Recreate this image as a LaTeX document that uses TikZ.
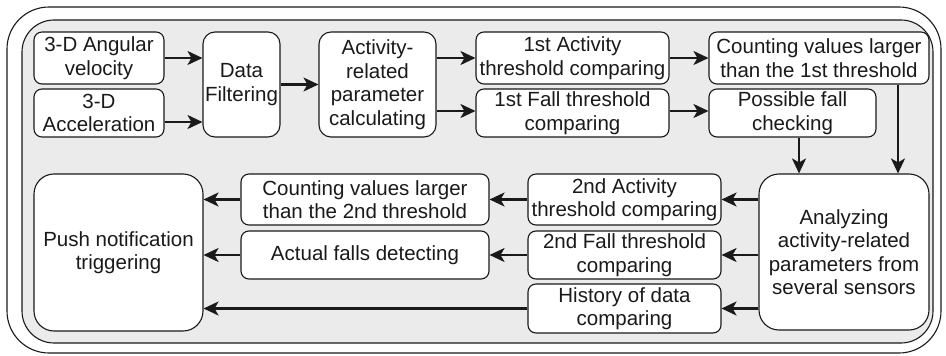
\documentclass[tikz,border=0pt]{standalone}
\usepackage{fontspec}
\setmainfont{Liberation Sans}
\usetikzlibrary{arrows.meta,calc}

\definecolor{panel}{HTML}{EBEBEB}
\definecolor{ink}{HTML}{1A1A1A}

\tikzset{
  box/.style={draw=ink, fill=white, line width=1.1pt, rounded corners=8pt,
    inner sep=0pt, align=center, text=ink,
    font=\fontsize{20.5}{23.5}\selectfont},
  bigbox/.style={box, rounded corners=20pt},
  midbox/.style={box, rounded corners=12pt},
  arr/.style={draw=ink, line width=2.2pt,
    -{Stealth[length=15pt,width=14pt,inset=4pt]}},
}

\begin{document}
\begin{tikzpicture}[x=1pt,y=-1pt]
\useasboundingbox (0,0) rectangle (946,356);

% outer frames
\draw[ink, line width=1.1pt, fill=white, rounded corners=42pt] (7,7) rectangle (941,353);
\draw[ink, line width=1.1pt, fill=panel, rounded corners=32pt] (22,20) rectangle (933,343);

% top row
\node[box, minimum width=130pt, minimum height=52pt] (ang) at (99,58) {3-D Angular\\velocity};
\node[box, minimum width=130pt, minimum height=48pt] (acc) at (99,113) {3-D\\Acceleration};
\node[midbox, minimum width=77pt, minimum height=105pt] (filt) at (241.5,84.5) {Data\\Filtering};
\node[midbox, minimum width=117pt, minimum height=105pt] (act) at (377.5,84.5) {Activity-\\related\\parameter\\calculating};
\node[box, minimum width=193pt, minimum height=52pt] (th1a) at (572.5,58) {1st Activity\\threshold comparing};
\node[box, minimum width=193pt, minimum height=48pt] (th1f) at (572.5,113) {1st Fall threshold\\comparing};
\node[box, minimum width=220pt, minimum height=52pt] (cnt1) at (819,58) {Counting values larger\\than the 1st threshold};
\node[box, minimum width=167pt, minimum height=48pt] (poss) at (792.5,113) {Possible fall\\checking};

% bottom row
\node[bigbox, minimum width=170pt, minimum height=156pt] (ana) at (844,252) {Analyzing\\activity-related\\parameters from\\several sensors};
\node[box, minimum width=193pt, minimum height=51pt] (th2a) at (624.5,199.5) {2nd Activity\\threshold comparing};
\node[box, minimum width=193pt, minimum height=48pt] (th2f) at (624.5,255) {2nd Fall threshold\\comparing};
\node[box, minimum width=193pt, minimum height=49pt] (hist) at (624.5,308.5) {History of data\\comparing};
\node[box, minimum width=248pt, minimum height=51pt] (cnt2) at (365,199.5) {Counting values larger\\than the 2nd threshold};
\node[box, minimum width=248pt, minimum height=48pt] (actual) at (365,255) {Actual falls detecting};
\node[bigbox, minimum width=169pt, minimum height=157pt] (push) at (118.5,252.5) {Push notification\\triggering};

% connectors, top row
\draw[arr] (ang.east) -- (ang.east -| filt.west);
\draw[arr] ([yshift=-9pt]acc.east) -- ([yshift=-9pt]acc.east -| filt.west);
\draw[arr] (filt.east) -- (filt.east -| act.west);
\draw[arr] (act.east |- th1a.west) -- (th1a.west);
\draw[arr] ([yshift=2pt]act.east |- th1f.west) -- ([yshift=2pt]th1f.west);
\draw[arr] (th1a.east) -- (th1a.east -| cnt1.west);
\draw[arr] ([yshift=2pt]th1f.east) -- ([yshift=2pt]th1f.east -| poss.west);

% connectors down into the analysis stage
\draw[arr] ([xshift=6.5pt]poss.south) -- ([xshift=6.5pt]poss.south |- ana.north);
\draw[arr] ([xshift=79pt]cnt1.south) -- ([xshift=79pt]cnt1.south |- ana.north);

% connectors, bottom row
\draw[arr] (ana.west |- th2a.east) -- (th2a.east);
\draw[arr] (ana.west |- th2f.east) -- (th2f.east);
\draw[arr] (ana.west |- hist.east) -- (hist.east);
\draw[arr] (th2a.west) -- (th2a.west -| cnt2.east);
\draw[arr] (th2f.west) -- (th2f.west -| actual.east);
\draw[arr] (cnt2.west) -- (cnt2.west -| push.east);
\draw[arr] (actual.west) -- (actual.west -| push.east);
\draw[arr] (hist.west) -- (hist.west -| push.east);
\end{tikzpicture}
\end{document}
